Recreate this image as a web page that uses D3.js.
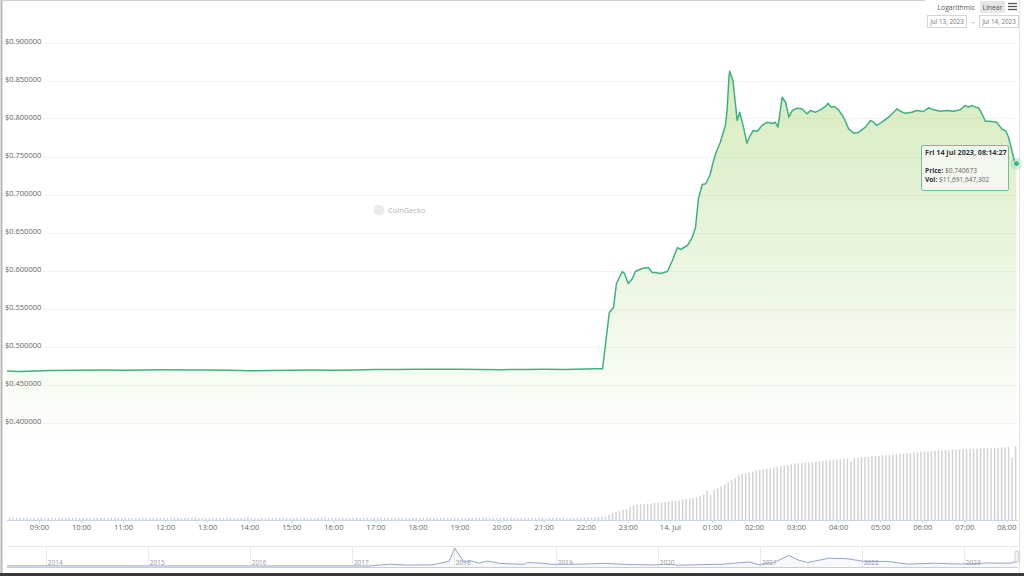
<!DOCTYPE html>
<html>
<head>
<meta charset="utf-8">
<script src="https://cdn.jsdelivr.net/npm/d3@7"></script>
<style>
    body { margin: 0; background: #fff; }
    svg { display: block; font-family: "Open Sans", sans-serif; }
</style>
</head>
<body>
<svg id="chart" width="1024" height="576"></svg>
<script>

// price, hours after 13 Jul 2023 00:00
var priceHours = [
    8.2408, 8.5, 8.75, 9.25, 10, 10.5, 11, 11.5, 12, 12.5, 13, 13.5, 14, 14.5, 15, 15.5,
    16, 16.5, 17, 17.5, 18, 18.5, 19, 19.5, 20, 20.5, 21, 21.5, 21.75, 22, 22.25, 22.40,
    22.56, 22.66, 22.73, 22.87, 22.92, 23.01, 23.11, 23.18, 23.34, 23.49, 23.58, 23.65, 23.77, 23.94,
    24.06, 24.18, 24.25, 24.42, 24.53, 24.61, 24.68, 24.77, 24.85, 24.95,
    25.04, 25.10, 25.20, 25.26, 25.32, 25.36, 25.40, 25.42, 25.50, 25.60, 25.66, 25.75, 25.83, 25.91, 25.98,
    26.08, 26.19, 26.32, 26.43, 26.51, 26.57, 26.67, 26.75, 26.83, 26.91,
    27.03, 27.14, 27.22, 27.27, 27.34, 27.46, 27.58, 27.70, 27.76, 27.83, 27.91,
    28.01, 28.13, 28.25, 28.37, 28.49, 28.65, 28.77, 28.84, 28.92,
    29.04, 29.20, 29.32, 29.40, 29.48, 29.59, 29.75, 29.87,
    30.03, 30.15, 30.27, 30.43, 30.59, 30.74, 30.90,
    31.02, 31.10, 31.18, 31.26, 31.34, 31.42, 31.50, 31.61, 31.77, 31.89, 31.99,
    32.05, 32.13, 32.21, 32.2408
];
var priceValues = [
    0.4678, 0.4670, 0.4675, 0.4683, 0.4686, 0.4690, 0.4688, 0.4692, 0.4694, 0.4690, 0.4692, 0.4686, 0.4681, 0.4685, 0.4688, 0.4690,
    0.4686, 0.4692, 0.4696, 0.4698, 0.4700, 0.4702, 0.4700, 0.4697, 0.4695, 0.4698, 0.4700, 0.4696, 0.4702, 0.4704, 0.4706, 0.4707,
    0.5447, 0.5513, 0.5829, 0.5987, 0.5961, 0.5829, 0.5895, 0.5987, 0.6026, 0.6039, 0.5974, 0.5974, 0.5961, 0.5987,
    0.6132, 0.6303, 0.6276, 0.6329, 0.6434, 0.6566, 0.6947, 0.7132, 0.7141, 0.7250,
    0.7447, 0.7557, 0.7688, 0.7799, 0.7908, 0.8105, 0.8500, 0.8622, 0.8500, 0.7974, 0.8083, 0.7886, 0.7675, 0.7776, 0.7842,
    0.7833, 0.7908, 0.7951, 0.7934, 0.7951, 0.7886, 0.8280, 0.8214, 0.8017, 0.8105,
    0.8136, 0.8128, 0.8083, 0.8062, 0.8105, 0.8083, 0.8114, 0.8158, 0.8201, 0.8149, 0.8158,
    0.8114, 0.8017, 0.7864, 0.7807, 0.7820, 0.7886, 0.7974, 0.7951, 0.7908,
    0.7951, 0.8017, 0.8083, 0.8128, 0.8096, 0.8070, 0.8083, 0.8105,
    0.8092, 0.8141, 0.8114, 0.8096, 0.8105, 0.8096, 0.8114,
    0.8171, 0.8149, 0.8171, 0.8149, 0.8141, 0.8062, 0.7964, 0.7964, 0.7951, 0.7864, 0.7833,
    0.7754, 0.7579, 0.7404, 0.740673
];
var priceTicks = [0.4, 0.45, 0.5, 0.55, 0.6, 0.65, 0.7, 0.75, 0.8, 0.85, 0.9];

// 24h volume in billions USD, one bar every 5 minutes from 08:15
var volumeValues = [
    0.34, 0.30, 0.36, 0.31, 0.33, 0.38, 0.29, 0.35, 0.32,
    0.36, 0.30, 0.34, 0.39, 0.31, 0.33, 0.37, 0.30, 0.35, 0.32, 0.38, 0.31,
    0.33, 0.36, 0.29, 0.35, 0.40, 0.32, 0.34, 0.30, 0.37, 0.33, 0.31, 0.36,
    0.38, 0.31, 0.34, 0.30, 0.36, 0.33, 0.39, 0.32, 0.35, 0.29, 0.34, 0.37,
    0.31, 0.35, 0.33, 0.38, 0.30, 0.36, 0.32, 0.34, 0.40, 0.31, 0.35, 0.33,
    0.36, 0.30, 0.37, 0.33, 0.31, 0.35, 0.38, 0.32, 0.34, 0.30, 0.36, 0.39,
    0.33, 0.31, 0.35, 0.37, 0.30, 0.34, 0.32, 0.38, 0.33, 0.36, 0.31, 0.35,
    0.34, 0.38, 0.31, 0.33, 0.36, 0.30, 0.35, 0.39, 0.32, 0.34, 0.37, 0.31,
    0.35, 0.32, 0.36, 0.30, 0.38, 0.33, 0.34, 0.31, 0.37, 0.35, 0.32, 0.36,
    0.30, 0.34, 0.39, 0.33, 0.31, 0.36, 0.35, 0.32, 0.38, 0.30, 0.34, 0.37,
    0.33, 0.36, 0.31, 0.35, 0.38, 0.32, 0.34, 0.37, 0.30, 0.36, 0.33, 0.35,
    0.39, 0.31, 0.34, 0.36, 0.32, 0.38, 0.33, 0.30, 0.35, 0.37, 0.31, 0.34,
    0.36, 0.33, 0.38, 0.31, 0.35, 0.34, 0.30, 0.37, 0.32, 0.36, 0.39, 0.33,
    0.31, 0.35, 0.37, 0.32, 0.34, 0.38, 0.30, 0.36, 0.33, 0.35, 0.31, 0.40,
    0.36, 0.42, 0.38, 0.45, 0.52,
    0.55, 0.8, 1.1, 1.3, 1.4, 1.6, 1.75,
    2.1, 2.3, 2.4, 2.5, 2.5, 2.6, 2.6, 2.7, 2.7, 2.8, 2.8, 2.9,
    3.0, 3.0, 3.1, 3.2, 3.3, 3.4, 3.5, 3.6, 3.8, 4.0, 4.6, 3.9,
    4.8, 5.0, 5.3, 5.6, 6.0, 6.3, 6.6, 7.1, 7.3, 7.4, 7.5, 7.6,
    7.8, 7.9, 8.0, 8.1, 8.2, 8.3, 8.4, 8.5, 8.6, 8.7, 8.8, 8.9,
    8.95, 9.0, 9.05, 9.1, 9.15, 9.2, 9.3, 9.35, 9.4, 9.45, 9.5, 9.55,
    9.6, 9.65, 9.7, 9.2, 9.8, 9.85, 9.9, 9.95, 10.0, 10.05, 10.1, 10.15,
    10.2, 10.25, 10.3, 10.35, 10.4, 10.45, 10.5, 10.55, 10.6, 10.65, 10.7, 10.75,
    10.8, 10.85, 10.9, 10.95, 11.0, 11.0, 11.05, 11.05, 11.1, 11.1, 11.15, 11.15,
    11.2, 11.2, 11.25, 11.25, 11.3, 11.3, 11.35, 11.35, 11.4, 11.4, 11.45, 11.45,
    11.5, 9.8, 11.65
];

// navigator: all-time price history
var navDates = [
    '2013-08-15', '2014-01-01', '2014-06-01', '2015-01-01', '2015-06-01', '2016-01-01', '2016-06-01',
    '2017-03-01', '2017-05-16', '2017-07-15', '2017-10-15', '2017-12-15', '2018-01-04', '2018-02-06',
    '2018-03-01', '2018-04-01', '2018-05-01', '2018-06-15', '2018-09-10', '2018-09-21', '2018-11-10',
    '2018-12-15', '2019-04-01', '2019-06-25', '2019-09-15', '2019-12-15', '2020-02-15', '2020-03-15',
    '2020-08-15', '2020-11-24', '2020-12-29', '2021-02-01', '2021-02-15', '2021-04-14', '2021-05-20',
    '2021-06-20', '2021-09-06', '2021-11-10', '2022-01-15', '2022-04-01', '2022-06-15', '2022-09-20',
    '2022-11-15', '2022-12-20', '2023-03-29', '2023-06-15', '2023-07-14'
];
var navPrices = [
    0.005, 0.025, 0.006, 0.015, 0.009, 0.006, 0.007,
    0.007, 0.30, 0.17, 0.20, 0.80, 3.10, 0.65,
    0.90, 0.50, 0.85, 0.45, 0.28, 0.60, 0.50,
    0.30, 0.32, 0.45, 0.26, 0.19, 0.30, 0.15,
    0.30, 0.70, 0.20, 0.55, 0.50, 1.80, 1.00,
    0.60, 1.35, 1.25, 0.75, 0.80, 0.32, 0.48,
    0.38, 0.34, 0.52, 0.48, 0.82
];
var navYears = [2014, 2015, 2016, 2017, 2018, 2019, 2020, 2021, 2022, 2023];

var tooltipTitle = 'Fri 14 Jul 2023, 08:14:27',
    tooltipPrice = '$0.740673',
    tooltipVol = '$11,691,647,302';


var svg = d3.select('#chart'),
    W = 1024,
    H = 576,
    lineColor = '#3cb281',
    dayStart = new Date(2023, 6, 13);

function hoursToDate(h) {
    return d3.timeSecond.offset(dayStart, Math.round(h * 3600));
}

var price = priceHours.map(function (h, i) {
    return {t: hoursToDate(h), v: priceValues[i]};
});
var volumeStart = new Date(2023, 6, 13, 8, 15);
var volume = volumeValues.map(function (v, i) {
    return {t: d3.timeMinute.offset(volumeStart, i * 5), v: v};
});

var x = d3.scaleTime()
    .domain([hoursToDate(8.2408), hoursToDate(32.2408)])
    .range([7, 1016.5]);
var y = d3.scaleLinear().domain([0.4, 0.9]).range([422.5, 42.5]);
var yVol = d3.scaleLinear().domain([0, 12]).range([520, 444]);

// frame
svg.append('rect').attr('width', W).attr('height', H).attr('fill', '#fff');
svg.append('line').attr('x1', 1.5).attr('x2', 1.5).attr('y1', 0).attr('y2', H)
    .attr('stroke', '#b8b8b8').attr('stroke-width', 2);
svg.append('line').attr('x1', 0).attr('x2', 925).attr('y1', 0.5).attr('y2', 0.5)
    .attr('stroke', '#d0d0d0');
svg.append('line').attr('x1', 1019.5).attr('x2', 1019.5).attr('y1', 0).attr('y2', H)
    .attr('stroke', '#e4e4e4');
svg.append('rect').attr('x', 0).attr('y', 573).attr('width', W).attr('height', 3).attr('fill', '#3a3a3a');

// grid and y labels
svg.append('g').selectAll('line').data(priceTicks).enter().append('line')
    .attr('x1', 7).attr('x2', 1018)
    .attr('y1', function (d) { return Math.round(y(d)) + 0.5; })
    .attr('y2', function (d) { return Math.round(y(d)) + 0.5; })
    .attr('stroke', '#f3f3f3');
svg.append('g').selectAll('text').data(priceTicks).enter().append('text')
    .attr('x', 5)
    .attr('y', function (d) { return y(d) + 1.5; })
    .attr('font-size', 7.5).attr('fill', '#666')
    .text(function (d) { return '$' + d3.format('.6f')(d); });

// watermark
svg.append('circle').attr('cx', 379).attr('cy', 210).attr('r', 5.5).attr('fill', '#ececec');
svg.append('text').attr('x', 388).attr('y', 212.5).attr('font-size', 7.5).attr('fill', '#b5b5b5').text('CoinGecko');

// volume bars
svg.append('g').selectAll('rect').data(volume).enter().append('rect')
    .attr('x', function (d) { return x(d.t) + 1.5; })
    .attr('width', 1.5)
    .attr('y', function (d) { return yVol(d.v); })
    .attr('height', function (d) { return 520 - yVol(d.v); })
    .attr('fill', '#d3d3d3');

// price area
var defs = svg.append('defs');
var grad = defs.append('linearGradient').attr('id', 'priceFill')
    .attr('gradientUnits', 'userSpaceOnUse')
    .attr('x1', 0).attr('x2', 0).attr('y1', 42).attr('y2', 445);
grad.append('stop').attr('offset', '0%').attr('stop-color', '#8dc647').attr('stop-opacity', 0.38);
grad.append('stop').attr('offset', '100%').attr('stop-color', '#8dc647').attr('stop-opacity', 0);

var area = d3.area()
    .x(function (d) { return x(d.t); })
    .y0(445)
    .y1(function (d) { return y(d.v); });
var line = d3.line()
    .x(function (d) { return x(d.t); })
    .y(function (d) { return y(d.v); });

svg.append('path').datum(price).attr('d', area).attr('fill', 'url(#priceFill)');
svg.append('path').datum(price).attr('d', line)
    .attr('fill', 'none').attr('stroke', lineColor).attr('stroke-width', 1.5)
    .attr('stroke-linejoin', 'round');

// x axis
var xAxis = d3.axisBottom(x)
    .ticks(d3.timeHour.every(1))
    .tickSize(3)
    .tickFormat(function (d) {
        return d.getHours() === 0 ? d3.timeFormat('%-d. %b')(d) : d3.timeFormat('%H:%M')(d);
    });
var gx = svg.append('g').attr('transform', 'translate(0,520)').call(xAxis);
gx.select('.domain').attr('stroke', '#ccd6eb').attr('d', 'M7,0.5H1018');
gx.selectAll('.tick line').attr('stroke', '#ccd6eb');
gx.selectAll('.tick text').attr('font-size', 7.5).attr('fill', '#666').attr('y', 4).attr('dy', '0.85em')
    .attr('font-family', '"Open Sans", sans-serif');

// last point marker
var last = price[price.length - 1];
svg.append('circle').attr('cx', x(last.t)).attr('cy', y(last.v)).attr('r', 6)
    .attr('fill', lineColor).attr('opacity', 0.2);
svg.append('circle').attr('cx', x(last.t)).attr('cy', y(last.v)).attr('r', 3)
    .attr('fill', lineColor).attr('stroke', '#fff').attr('stroke-width', 0.8);

// tooltip
var tip = svg.append('g').attr('transform', 'translate(921,145)');
tip.append('rect').attr('x', 0.5).attr('y', 0.5).attr('width', 87).attr('height', 45).attr('rx', 1.5)
    .attr('fill', 'rgba(245,247,244,0.88)').attr('stroke', '#6cc39a');
tip.append('text').attr('x', 4).attr('y', 10).attr('font-size', 7.2).attr('font-weight', 'bold')
    .attr('fill', '#333').text(tooltipTitle);
var t1 = tip.append('text').attr('x', 4).attr('y', 28).attr('font-size', 6.6).attr('fill', '#333');
t1.append('tspan').attr('font-weight', 'bold').text('Price: ');
t1.append('tspan').attr('fill', '#666').text(tooltipPrice);
var t2 = tip.append('text').attr('x', 4).attr('y', 37).attr('font-size', 6.6).attr('fill', '#333');
t2.append('tspan').attr('font-weight', 'bold').text('Vol: ');
t2.append('tspan').attr('fill', '#666').text(tooltipVol);

// navigator
var parseDay = d3.timeParse('%Y-%m-%d');
var nav = navDates.map(function (d, i) {
    return {t: parseDay(d), v: navPrices[i]};
});
var xNav = d3.scaleTime()
    .domain([parseDay('2013-08-15'), parseDay('2023-07-14')])
    .range([7, 1018]);
var yNav = d3.scaleLinear().domain([0, 3.1]).range([566, 548]);

svg.append('g').selectAll('line').data(navYears).enter().append('line')
    .attr('x1', function (d) { return Math.round(xNav(new Date(d, 0, 1))) + 0.5; })
    .attr('x2', function (d) { return Math.round(xNav(new Date(d, 0, 1))) + 0.5; })
    .attr('y1', 546).attr('y2', 567)
    .attr('stroke', '#ececec');
svg.append('g').selectAll('text').data(navYears).enter().append('text')
    .attr('x', function (d) { return xNav(new Date(d, 0, 1)) + 2; })
    .attr('y', 565)
    .attr('font-size', 6.5).attr('fill', '#999')
    .text(function (d) { return d; });

svg.append('path').datum(nav)
    .attr('d', d3.area().x(function (d) { return xNav(d.t); }).y0(567).y1(function (d) { return yNav(d.v); }))
    .attr('fill', 'rgba(102,133,194,0.06)');
svg.append('path').datum(nav)
    .attr('d', d3.line().x(function (d) { return xNav(d.t); }).y(function (d) { return yNav(d.v); }))
    .attr('fill', 'none').attr('stroke', '#97a3cf').attr('stroke-width', 1);

svg.append('line').attr('x1', 7).attr('x2', 1018).attr('y1', 546.5).attr('y2', 546.5).attr('stroke', '#e6e6e6');
svg.append('line').attr('x1', 7).attr('x2', 1018).attr('y1', 567.5).attr('y2', 567.5).attr('stroke', '#cccccc');
svg.append('rect').attr('x', 1015).attr('y', 551).attr('width', 4).attr('height', 11).attr('rx', 1)
    .attr('fill', '#f2f2f2').attr('stroke', '#b0b0b0').attr('stroke-width', 0.6);

// top right controls
svg.append('text').attr('x', 975).attr('y', 9.5).attr('text-anchor', 'end')
    .attr('font-size', 6.8).attr('fill', '#555').text('Logarithmic');
svg.append('rect').attr('x', 980).attr('y', 1).attr('width', 25).attr('height', 12).attr('rx', 2)
    .attr('fill', '#e6e6e6');
svg.append('text').attr('x', 992.5).attr('y', 9.5).attr('text-anchor', 'middle')
    .attr('font-size', 6.8).attr('fill', '#555').text('Linear');
[3.5, 6.5, 9.5].forEach(function (yy) {
    svg.append('line').attr('x1', 1008).attr('x2', 1017).attr('y1', yy).attr('y2', yy)
        .attr('stroke', '#555').attr('stroke-width', 1.3);
});
var dateBoxes = [{x: 927, label: 'Jul 13, 2023'}, {x: 979, label: 'Jul 14, 2023'}];
dateBoxes.forEach(function (b) {
    svg.append('rect').attr('x', b.x + 0.5).attr('y', 15.5).attr('width', 39).attr('height', 12)
        .attr('fill', '#fff').attr('stroke', '#d6d6d6');
    svg.append('text').attr('x', b.x + 20).attr('y', 24).attr('text-anchor', 'middle')
        .attr('font-size', 6.3).attr('fill', '#777').text(b.label);
});
svg.append('text').attr('x', 972.5).attr('y', 24).attr('text-anchor', 'middle')
    .attr('font-size', 6.5).attr('fill', '#777').text('→');

</script>
</body>
</html>
